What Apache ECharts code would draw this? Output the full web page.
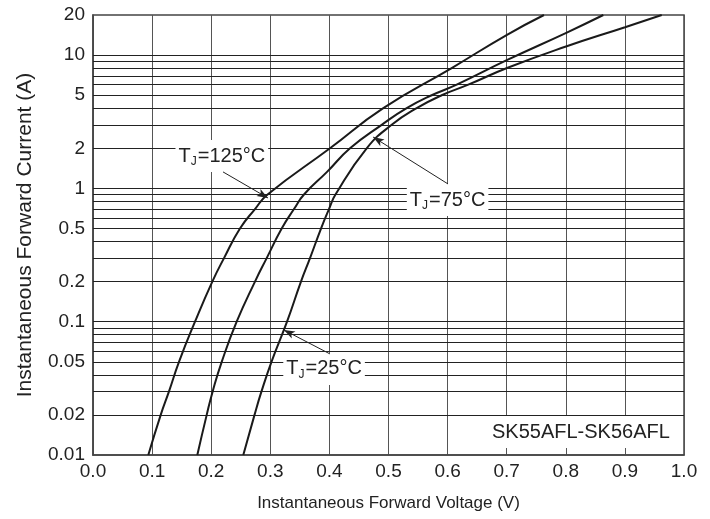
<!DOCTYPE html>
<html><head><meta charset="utf-8">
<script src="https://cdn.jsdelivr.net/npm/echarts@6/dist/echarts.min.js"></script>
<style>html,body{margin:0;padding:0;background:#fff}#c{width:710px;height:519px}</style>
</head><body><div id="c"></div>
<script>
// Forward voltage (V) / forward current (A)
const vT125 = [0.0936, 0.1146, 0.1286, 0.1455, 0.1726, 0.2019, 0.2217, 0.2487, 0.2741, 0.2954, 0.401, 0.4912, 0.6069, 0.7005, 0.7631];
const iT125 = [0.01, 0.02, 0.03, 0.05, 0.1, 0.2, 0.3, 0.5, 0.7, 0.9, 2.0, 4.0, 8.0, 14.2, 20];
const vT75 = [0.1765, 0.1924, 0.2025, 0.2178, 0.2431, 0.2741, 0.2939, 0.3193, 0.3401, 0.357, 0.396, 0.4349, 0.4885, 0.5308, 0.5731, 0.6154, 0.701, 0.8008, 0.8635];
const iT75 = [0.01, 0.02, 0.03, 0.05, 0.1, 0.2, 0.3, 0.5, 0.7, 0.9, 1.33, 2.0, 3.0, 4.0, 5.0, 6.0, 9.2, 14.7, 20];
const vT25 = [0.2543, 0.2733, 0.2851, 0.3020, 0.3283, 0.3519, 0.3672, 0.3858, 0.3993, 0.4103, 0.4631, 0.5054, 0.5477, 0.5900, 0.6350, 0.7005, 0.8003, 0.9002, 0.9623];
const iT25 = [0.01, 0.02, 0.03, 0.05, 0.1, 0.2, 0.3, 0.5, 0.7, 0.9, 2.0, 3.0, 4.0, 5.0, 6.0, 8.0, 11.6, 16.2, 20];

const yGridValues = [0.02,0.03,0.04,0.05,0.06,0.07,0.08,0.09,0.1,0.2,0.3,0.4,0.5,0.6,0.7,0.8,0.9,1,2,3,4,5,6,7,8,9,10];
const yTickLabels = [0.01,0.02,0.05,0.1,0.2,0.5,1,2,5,10,20];

const labelT125 = {x:0.218, y:1.75, t:'125'};
const labelT75 = {x:0.600, y:0.818, t:'75'};
const labelT25 = {x:0.391, y:0.0442, t:'25'};
const arrowT125 = [[0.220, 1.33], [0.296, 0.848]];
const arrowT75 = [[0.6007, 1.08], [0.474, 2.43]];
const arrowT25 = [[0.401, 0.0573], [0.323, 0.0867]];
const partLabel = {x:0.829, y:0.01488, text:'SK55AFL-SK56AFL'};

const FONT = '"Liberation Sans", Arial, Helvetica, sans-serif';
const pair = (v, i) => v.map((x, k) => [x, i[k]]);
const curveStyle = {color:'#1a1a1a', width:2};

const tjLabel = (o) => ({
  coord:[o.x, o.y], symbol:'rect', symbolSize:0,
  label:{show:true, position:'inside', formatter:'{t|T}{s|J}{t|=' + o.t + '°C}',
    backgroundColor:'#fff', padding:[4,3,4,3],
    rich:{t:{fontSize:20, fontFamily:FONT, color:'#222'},
          s:{fontSize:12, fontFamily:FONT, color:'#222', padding:[12,1,0,0]}}}
});
const arrow = (a) => [{coord:a[0], symbol:'none'}, {coord:a[1], symbol:'arrow', symbolSize:[6,11]}];
const curve = (name, v, i) => ({name, type:'line', data:pair(v, i), showSymbol:false,
  smooth:0.5, lineStyle:curveStyle, z:3});

const chart = echarts.init(document.getElementById('c'), null, {renderer:'canvas'});
chart.setOption({
  animation:false,
  backgroundColor:'#fff',
  grid:{left:93, right:26, top:15, bottom:64, show:true, borderColor:'#444', borderWidth:1.5, backgroundColor:'transparent'},
  xAxis:{type:'value', min:0, max:1, interval:0.1,
    name:'Instantaneous Forward Voltage (V)', nameLocation:'middle', nameGap:40,
    nameTextStyle:{fontSize:17, fontFamily:FONT, color:'#222'},
    axisLine:{show:true, lineStyle:{color:'#444', width:1.5}},
    axisTick:{show:false},
    axisLabel:{fontSize:19, fontFamily:FONT, color:'#222', margin:7, formatter:v => v.toFixed(1)},
    splitLine:{show:true, lineStyle:{color:'#555', width:1}}
  },
  yAxis:{type:'log', logBase:10, min:0.01, max:20,
    name:'Instantaneous Forward Current (A)', nameLocation:'middle', nameGap:57,
    nameTextStyle:{fontSize:21, fontFamily:FONT, color:'#222'},
    axisLine:{show:true, lineStyle:{color:'#444', width:1.5}},
    axisTick:{show:false},
    axisLabel:{fontSize:19, fontFamily:FONT, color:'#222', margin:8, customValues:yTickLabels,
      formatter:v => String(parseFloat(Number(v).toPrecision(3)))},
    splitLine:{show:false}
  },
  series:[
    {name:'gridlines', type:'line', data:[], silent:true,
     markLine:{silent:true, z:1, symbol:['none','none'], label:{show:false},
       lineStyle:{color:'#222', width:1, type:'solid'}, emphasis:{disabled:true},
       data: yGridValues.map(v => ({yAxis:v}))}},
    curve('TJ=125°C', vT125, iT125),
    curve('TJ=75°C', vT75, iT75),
    curve('TJ=25°C', vT25, iT25),
    {name:'annotations', type:'line', data:[], silent:true, z:10,
     markLine:{silent:true, z:11, label:{show:false}, lineStyle:{color:'#222', width:1, type:'solid'},
       emphasis:{disabled:true},
       data:[arrow(arrowT125), arrow(arrowT75), arrow(arrowT25)]},
     markPoint:{silent:true, z:10,
       data:[tjLabel(labelT125), tjLabel(labelT75), tjLabel(labelT25),
         {coord:[partLabel.x, partLabel.y], symbol:'rect', symbolSize:0,
          label:{show:true, position:'inside', formatter:partLabel.text, fontSize:20, fontFamily:FONT,
            color:'#222', backgroundColor:'#fff', padding:[6,12,6,8]}}]}}
  ]
});
</script></body></html>
